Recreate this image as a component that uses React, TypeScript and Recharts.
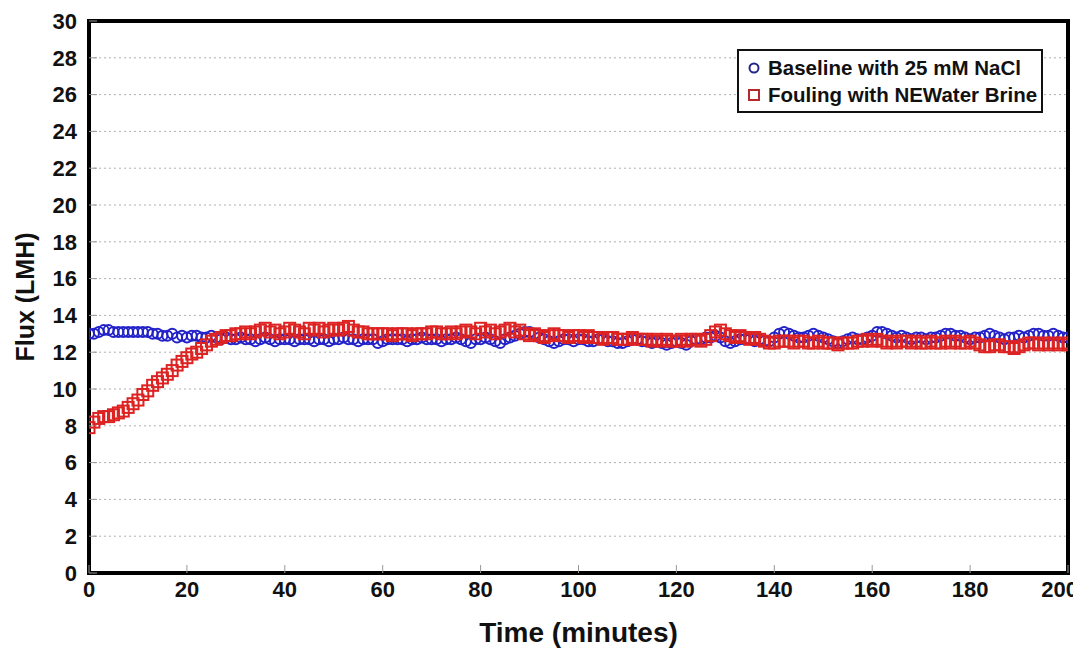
import React from "react";
import {
  CartesianGrid,
  ComposedChart,
  Label,
  Line,
  ReferenceArea,
  XAxis,
  YAxis,
} from "recharts";

// time in minutes, one reading per minute
const minutes: number[] = Array.from({ length: 201 }, (_, i) => i);

const baseline: number[] = [
  13.0, 13.0, 13.1, 13.2, 13.2, 13.1, 13.1, 13.1, 13.1, 13.1,
  13.1, 13.1, 13.1, 13.0, 13.0, 12.9, 12.9, 13.0, 12.8, 12.9,
  12.8, 12.9, 12.9, 12.8, 12.8, 12.9, 12.8, 12.7, 12.8, 12.7,
  12.7, 12.8, 12.7, 12.7, 12.6, 12.7, 12.8, 12.7, 12.6, 12.7,
  12.7, 12.7, 12.6, 12.7, 12.7, 12.7, 12.6, 12.7, 12.7, 12.6,
  12.7, 12.7, 12.8, 12.7, 12.7, 12.6, 12.7, 12.7, 12.7, 12.5,
  12.6, 12.7, 12.7, 12.7, 12.7, 12.6, 12.7, 12.7, 12.8, 12.7,
  12.7, 12.7, 12.6, 12.7, 12.7, 12.8, 12.7, 12.6, 12.5, 12.7,
  12.7, 12.8, 12.7, 12.6, 12.5, 12.7, 12.8, 12.9, 13.0, 13.1,
  13.1, 13.0, 12.8, 12.7, 12.6, 12.5, 12.6, 12.7, 12.7, 12.6,
  12.7, 12.7, 12.6, 12.6, 12.7, 12.7, 12.6, 12.6, 12.5, 12.5,
  12.6, 12.7, 12.7, 12.6, 12.6, 12.5, 12.6, 12.5, 12.4, 12.5,
  12.6, 12.5, 12.4, 12.6, 12.7, 12.7, 12.8, 12.8, 12.9, 12.8,
  12.6, 12.5, 12.6, 12.7, 12.7, 12.7, 12.6, 12.7, 12.6, 12.6,
  12.8, 13.0, 13.1, 13.0, 12.9, 12.8, 12.8, 12.9, 13.0, 12.9,
  12.8, 12.7, 12.6, 12.5, 12.6, 12.7, 12.8, 12.7, 12.7, 12.8,
  12.9, 13.1, 13.1, 13.0, 12.9, 12.8, 12.9, 12.8, 12.7, 12.8,
  12.8, 12.7, 12.8, 12.8, 12.9, 13.0, 13.0, 12.9, 12.9, 12.8,
  12.7, 12.8, 12.8, 12.9, 13.0, 12.9, 12.8, 12.7, 12.8, 12.8,
  12.9, 12.8, 12.9, 13.0, 13.0, 12.9, 12.9, 13.0, 12.9, 12.8,
  12.8,
];

const fouling: number[] = [
  7.9, 8.2, 8.4, 8.5, 8.5, 8.6, 8.7, 8.8, 9.0, 9.2,
  9.4, 9.7, 9.9, 10.2, 10.4, 10.6, 10.8, 11.0, 11.3, 11.5,
  11.7, 11.9, 12.0, 12.2, 12.4, 12.6, 12.7, 12.8, 12.9, 12.9,
  13.0, 13.0, 13.1, 13.0, 13.1, 13.2, 13.3, 13.1, 13.2, 13.0,
  13.1, 13.3, 13.2, 13.1, 13.0, 13.3, 13.2, 13.3, 13.1, 13.2,
  13.3, 13.2, 13.3, 13.4, 13.2, 13.1, 13.1, 13.0, 13.0, 13.0,
  13.0, 13.0, 12.9, 13.0, 13.0, 13.0, 12.9, 13.0, 13.0, 13.0,
  13.1, 13.1, 13.0, 13.0, 13.1, 13.0, 13.1, 13.2, 13.1, 13.0,
  13.3, 13.1, 13.2, 13.0, 13.1, 13.2, 13.3, 13.1, 13.2, 13.0,
  12.9, 13.0, 12.9, 12.8, 12.9, 13.0, 12.9, 12.9, 12.8, 12.9,
  12.9, 12.8, 12.9, 12.8, 12.8, 12.7, 12.8, 12.8, 12.7, 12.7,
  12.7, 12.8, 12.7, 12.7, 12.7, 12.6, 12.7, 12.6, 12.7, 12.6,
  12.6, 12.7, 12.6, 12.7, 12.7, 12.6, 12.7, 12.9, 13.1, 13.2,
  13.0, 12.9, 12.8, 12.9, 12.8, 12.7, 12.8, 12.7, 12.6, 12.5,
  12.5, 12.6, 12.6, 12.6, 12.5, 12.6, 12.6, 12.5, 12.5, 12.6,
  12.5, 12.5, 12.5, 12.4, 12.5, 12.5, 12.5, 12.6, 12.6, 12.7,
  12.6, 12.7, 12.6, 12.5, 12.6, 12.5, 12.6, 12.6, 12.5, 12.6,
  12.5, 12.5, 12.6, 12.5, 12.5, 12.6, 12.5, 12.6, 12.5, 12.5,
  12.6, 12.5, 12.4, 12.3, 12.3, 12.4, 12.4, 12.3, 12.3, 12.2,
  12.3, 12.4, 12.5, 12.5, 12.4, 12.5, 12.4, 12.5, 12.4, 12.5,
  12.4,
];

const xTicks = [0, 20, 40, 60, 80, 100, 120, 140, 160, 180, 200];
const yTicks = [0, 2, 4, 6, 8, 10, 12, 14, 16, 18, 20, 22, 24, 26, 28, 30];

const seriesNames = ["Baseline with 25 mM NaCl", "Fouling with NEWater Brine"];

const BLUE = "#2222c8";
const RED = "#dd2222";
const FONT = "'Liberation Sans', Arial, sans-serif";

const data = minutes.map((t, i) => ({
  t,
  baseline: baseline[i],
  fouling: fouling[i],
}));

const tickStyle = { fontSize: 22, fontWeight: 700, fill: "#111", fontFamily: FONT };

// x tick: the last label is right-aligned so it stays inside the window
const renderXTick = (props: any) => {
  const { x, y, payload, index } = props;
  const last = Number(payload.value) === 200;
  return (
    <text
      key={`xt-${index}`}
      x={Number(x)}
      y={Number(y)}
      dx={last ? 10 : 0}
      dy="0.71em"
      textAnchor={last ? "end" : "middle"}
      fontSize={22}
      fontWeight={700}
      fill="#111"
      fontFamily={FONT}
    >
      {payload.value}
    </text>
  );
};

const CircleDot = (props: any) => {
  const { cx, cy, index } = props;
  if (cx == null || cy == null) return <g key={`c-${index}`} />;
  return (
    <circle key={`c-${index}`} cx={cx} cy={cy} r={5} fill="#fff" fillOpacity={0} stroke={BLUE} strokeWidth={2} />
  );
};

const SquareDot = (props: any) => {
  const { cx, cy, index } = props;
  if (cx == null || cy == null) return <g key={`s-${index}`} />;
  return (
    <rect key={`s-${index}`} x={cx - 5.5} y={cy - 5.5} width={11} height={11} fill="#fff" fillOpacity={0} stroke={RED} strokeWidth={2} />
  );
};

const markerBox = { flexShrink: 0, marginRight: 5 };

const LegendBox = () => (
  <div
    style={{
      position: "absolute",
      left: 729,
      top: 41,
      width: 306,
      boxSizing: "border-box",
      border: "2px solid #111",
      background: "#fff",
      padding: "3px 4px 3px 8px",
      fontFamily: FONT,
      fontWeight: 700,
      fontSize: 20.5,
      color: "#111",
      lineHeight: "27px",
      whiteSpace: "nowrap",
    }}
  >
    <div style={{ display: "flex", alignItems: "center" }}>
      <svg width={16} height={14} style={markerBox}>
        <circle cx={7} cy={7} r={4.5} fill="none" stroke="#26268a" strokeWidth={2} />
      </svg>
      {seriesNames[0]}
    </div>
    <div style={{ display: "flex", alignItems: "center" }}>
      <svg width={16} height={14} style={markerBox}>
        <rect x={2} y={2} width={10} height={10} fill="none" stroke="#b42a2a" strokeWidth={2} />
      </svg>
      {seriesNames[1]}
    </div>
  </div>
);

export default function App() {
  return (
    <div style={{ position: "relative", width: 1073, height: 640, background: "#fff" }}>
      {/* page is 656px tall with the body margins; hide the scrollbar so it doesn't eat the right edge */}
      <style>{"html, body { overflow: hidden; }"}</style>
      <ComposedChart
        width={1073}
        height={640}
        data={data}
        margin={{ top: 13, right: 13, left: 0, bottom: 0 }}
      >
        <CartesianGrid vertical={false} stroke="#b0b0b0" strokeDasharray="2 3" />
        <XAxis
          dataKey="t"
          type="number"
          domain={[0, 200]}
          ticks={xTicks}
          height={75}
          axisLine={false}
          tickSize={-8}
          tickMargin={16}
          tickLine={{ stroke: "#999" }}
          tick={renderXTick}
          interval={0}
          allowDataOverflow
        >
          <Label
            value="Time (minutes)"
            position="insideBottom"
            offset={6}
            style={{ fontSize: 28, fontWeight: 700, fill: "#111", fontFamily: FONT }}
          />
        </XAxis>
        <YAxis
          type="number"
          domain={[0, 30]}
          ticks={yTicks}
          width={81}
          axisLine={false}
          tickSize={-8}
          tickMargin={20}
          tickLine={{ stroke: "#999" }}
          tick={tickStyle}
          interval={0}
          allowDataOverflow
        >
          <Label
            value="Flux (LMH)"
            angle={-90}
            position="insideLeft"
            offset={17}
            style={{ fontSize: 25, fontWeight: 700, fill: "#111", fontFamily: FONT, textAnchor: "middle" }}
          />
        </YAxis>
        <Line
          dataKey="baseline"
          name={seriesNames[0]}
          stroke="none"
          dot={CircleDot}
          activeDot={false}
          isAnimationActive={false}
        />
        <Line
          dataKey="fouling"
          name={seriesNames[1]}
          stroke="none"
          dot={SquareDot}
          activeDot={false}
          isAnimationActive={false}
        />
        <ReferenceArea
          x1={0}
          x2={200}
          y1={0}
          y2={30}
          fill="none"
          stroke="#000"
          strokeWidth={4}
          ifOverflow="visible"
        />
      </ComposedChart>
      <LegendBox />
    </div>
  );
}
